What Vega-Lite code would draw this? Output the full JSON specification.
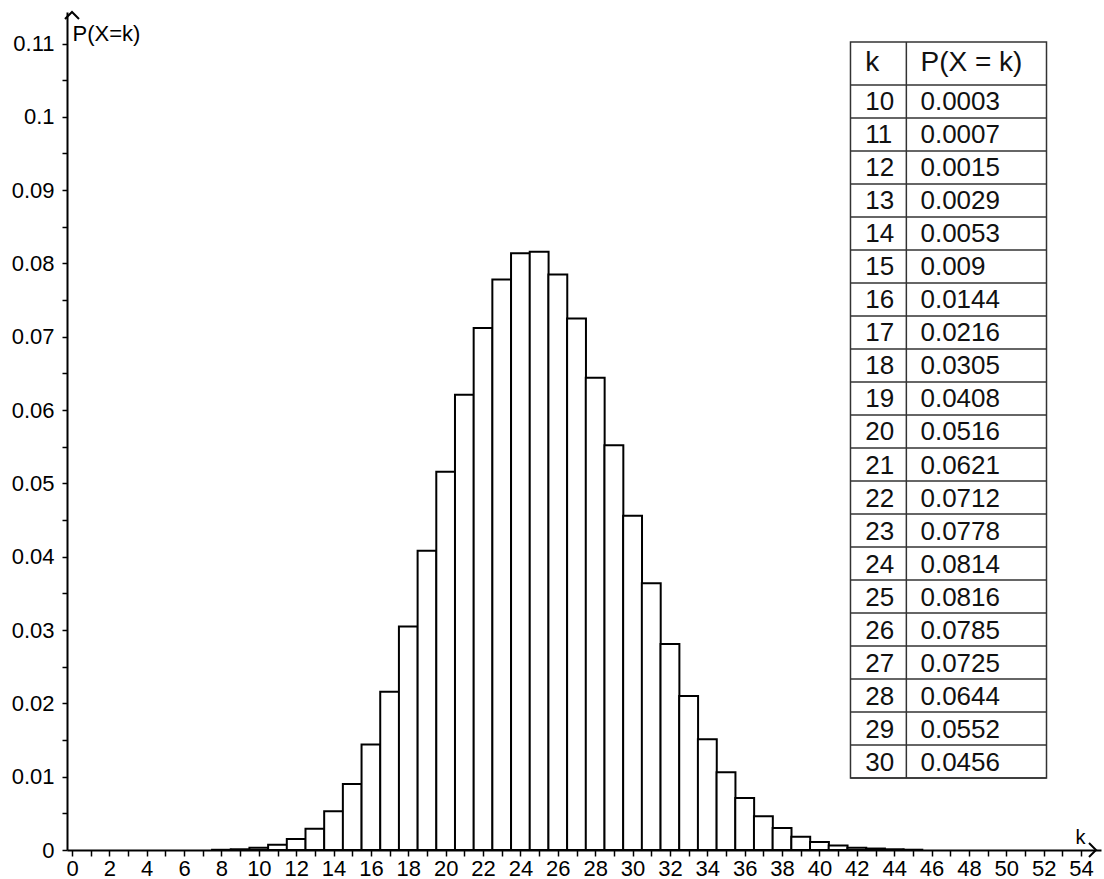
{
  "$schema": "https://vega.github.io/schema/vega-lite/v6.json",
  "width": 1034,
  "height": 838,
  "autosize": "none",
  "padding": {"left": 67, "top": 12, "right": 3, "bottom": 29},
  "background": "white",
  "config": {"view": {"stroke": null}, "font": "Liberation Sans", "axis": {"labelOverlap": false, "labelBound": false, "labelFlush": false}},
  "datasets": {
    "pmf": [
      {"k": 8, "p": 0.00003}, {"k": 9, "p": 0.0001}, {"k": 10, "p": 0.0003}, {"k": 11, "p": 0.0007},
      {"k": 12, "p": 0.0015}, {"k": 13, "p": 0.0029}, {"k": 14, "p": 0.0053}, {"k": 15, "p": 0.009},
      {"k": 16, "p": 0.0144}, {"k": 17, "p": 0.0216}, {"k": 18, "p": 0.0305}, {"k": 19, "p": 0.0408},
      {"k": 20, "p": 0.0516}, {"k": 21, "p": 0.0621}, {"k": 22, "p": 0.0712}, {"k": 23, "p": 0.0778},
      {"k": 24, "p": 0.0814}, {"k": 25, "p": 0.0816}, {"k": 26, "p": 0.0785}, {"k": 27, "p": 0.0725},
      {"k": 28, "p": 0.0644}, {"k": 29, "p": 0.0552}, {"k": 30, "p": 0.0456}, {"k": 31, "p": 0.0364},
      {"k": 32, "p": 0.0281}, {"k": 33, "p": 0.021}, {"k": 34, "p": 0.0151}, {"k": 35, "p": 0.0106},
      {"k": 36, "p": 0.0071}, {"k": 37, "p": 0.0046}, {"k": 38, "p": 0.003}, {"k": 39, "p": 0.0018},
      {"k": 40, "p": 0.0011}, {"k": 41, "p": 0.0006}, {"k": 42, "p": 0.0003}, {"k": 43, "p": 0.0002},
      {"k": 44, "p": 0.0001}, {"k": 45, "p": 0.00004}
    ],
    "one": [{}]
  },
  "data": {"name": "pmf"},
  "resolve": {"scale": {"x": "independent", "y": "independent"}},
  "layer": [
    {
      "encoding": {
        "x": {
          "type": "quantitative",
          "scale": {"domain": [0, 54.8], "nice": false, "zero": false},
          "axis": {
            "values": [0,1,2,3,4,5,6,7,8,9,10,11,12,13,14,15,16,17,18,19,20,21,22,23,24,25,26,27,28,29,30,31,32,33,34,35,36,37,38,39,40,41,42,43,44,45,46,47,48,49,50,51,52,53,54],
            "format": "d",
            "labelExpr": "datum.value % 2 == 0 ? datum.label : ''",
            "labelOverlap": false, "labelBound": false, "labelFlush": false,
            "grid": false,
            "domainColor": "black", "domainWidth": 2,
            "tickColor": "black", "tickWidth": 1.5, "tickSize": 6,
            "labelFontSize": 22, "labelColor": "black", "labelPadding": 2, "labelFont": "Liberation Sans",
            "title": "k", "titleX": 1008, "titleY": -7, "titleAlign": "left", "titleBaseline": "alphabetic",
            "titleFontWeight": "normal", "titleFontSize": 20, "titleColor": "black", "titleFont": "Liberation Sans"
          }
        },
        "y": {
          "type": "quantitative",
          "scale": {"domain": [0, 0.1143], "nice": false, "zero": false},
          "axis": {
            "values": [0,0.005,0.01,0.015,0.02,0.025,0.03,0.035,0.04,0.045,0.05,0.055,0.06,0.065,0.07,0.075,0.08,0.085,0.09,0.095,0.1,0.105,0.11],
            "labelExpr": "abs(datum.value*100 - round(datum.value*100)) < 0.001 ? format(datum.value, '~g') : ''",
            "labelOverlap": false, "labelBound": false, "labelFlush": false,
            "grid": false,
            "domainColor": "black", "domainWidth": 2,
            "tickColor": "black", "tickWidth": 1.5, "tickSize": 5,
            "labelFontSize": 22, "labelColor": "black", "labelPadding": 8, "labelFont": "Liberation Sans",
            "title": "P(X=k)", "titleAngle": 0, "titleX": 5, "titleY": 28, "titleAlign": "left", "titleBaseline": "alphabetic",
            "titleFontWeight": "normal", "titleFontSize": 22, "titleColor": "black", "titleFont": "Liberation Sans"
          }
        }
      },
      "layer": [
        {
          "mark": {"type": "bar", "fill": "white", "stroke": "black", "strokeWidth": 2, "width": 18.86, "orient": "vertical"},
          "encoding": {
            "x": {"field": "k"},
            "y": {"field": "p"}
          }
        },
        {
          "data": {"name": "one"},
          "mark": {"type": "point", "shape": "M -1 -1 L 0 0 L -1 1", "filled": false, "stroke": "black", "strokeWidth": 2, "size": 196, "opacity": 1},
          "encoding": {
            "x": {"datum": 54.8},
            "y": {"datum": 0}
          }
        },
        {
          "data": {"name": "one"},
          "mark": {"type": "point", "shape": "M -1 1 L 0 0 L 1 1", "filled": false, "stroke": "black", "strokeWidth": 2, "size": 196, "opacity": 1},
          "encoding": {
            "x": {"datum": 0},
            "y": {"datum": 0.1143}
          }
        }
      ]
    },
    {
      "transform": [{"filter": "datum.k >= 10 && datum.k <= 30"}],
      "encoding": {
        "x": {"type": "quantitative", "scale": {"domain": [-39.97, 12.78], "nice": false, "zero": false}, "axis": null},
        "y": {"type": "quantitative", "scale": {"domain": [7.29, 32.68], "nice": false, "zero": false, "reverse": true}, "axis": null}
      },
      "layer": [
        {
          "data": {"name": "one"},
          "mark": {"type": "rect", "fill": "white", "stroke": "#333333", "strokeWidth": 1.5},
          "encoding": {
            "x": {"datum": 0, "type": "quantitative"},
            "x2": {"datum": 10},
            "y": {"datum": 8.2, "type": "quantitative"},
            "y2": {"datum": 30.5}
          }
        },
        {
          "mark": {"type": "rule", "stroke": "#333333", "strokeWidth": 1.5, "yOffset": 16.5},
          "encoding": {
            "x": {"datum": 0, "type": "quantitative"},
            "x2": {"datum": 10},
            "y": {"field": "k", "type": "quantitative"}
          }
        },
        {
          "data": {"name": "one"},
          "mark": {"type": "rule", "stroke": "#333333", "strokeWidth": 1.5},
          "encoding": {
            "x": {"datum": 0, "type": "quantitative"},
            "x2": {"datum": 10},
            "y": {"datum": 9.5, "type": "quantitative"}
          }
        },
        {
          "data": {"name": "one"},
          "mark": {"type": "rule", "stroke": "#333333", "strokeWidth": 1.5},
          "encoding": {
            "x": {"datum": 2.85, "type": "quantitative"},
            "y": {"datum": 8.2, "type": "quantitative"},
            "y2": {"datum": 30.5}
          }
        },
        {
          "mark": {"type": "text", "align": "left", "baseline": "middle", "fontSize": 26, "font": "Liberation Sans", "color": "#111111", "dy": 1},
          "encoding": {
            "x": {"datum": 0.75, "type": "quantitative"},
            "y": {"field": "k", "type": "quantitative"},
            "text": {"field": "k", "type": "nominal"}
          }
        },
        {
          "mark": {"type": "text", "align": "left", "baseline": "middle", "fontSize": 26, "font": "Liberation Sans", "color": "#111111", "dy": 1},
          "encoding": {
            "x": {"datum": 3.57, "type": "quantitative"},
            "y": {"field": "k", "type": "quantitative"},
            "text": {"field": "p", "type": "nominal"}
          }
        },
        {
          "data": {"name": "one"},
          "mark": {"type": "text", "align": "left", "baseline": "middle", "fontSize": 28, "font": "Liberation Sans", "color": "#111111", "text": "k", "dy": 0},
          "encoding": {
            "x": {"datum": 0.75, "type": "quantitative"},
            "y": {"datum": 8.85, "type": "quantitative"}
          }
        },
        {
          "data": {"name": "one"},
          "mark": {"type": "text", "align": "left", "baseline": "middle", "fontSize": 28, "font": "Liberation Sans", "color": "#111111", "text": "P(X = k)", "dy": 0},
          "encoding": {
            "x": {"datum": 3.57, "type": "quantitative"},
            "y": {"datum": 8.85, "type": "quantitative"}
          }
        }
      ]
    }
  ]
}
